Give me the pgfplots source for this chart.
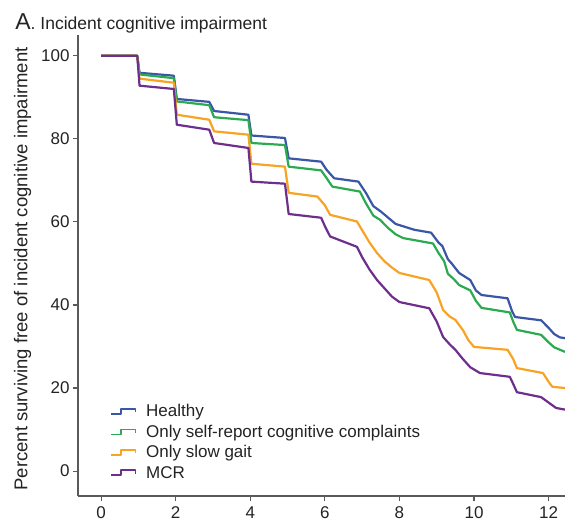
\documentclass[border=0pt]{standalone}
\usepackage{pgfplots}
\pgfplotsset{compat=1.18}
\usepackage{fontspec}
\setmainfont{Liberation Sans}
\usetikzlibrary{calc}
\definecolor{cHealthy}{RGB}{58,86,166}
\definecolor{cSelf}{RGB}{44,170,82}
\definecolor{cGait}{RGB}{247,163,36}
\definecolor{cMCR}{RGB}{110,46,140}
\definecolor{axgray}{RGB}{90,90,90}
\definecolor{txt}{RGB}{35,35,35}
\begin{document}
\begin{tikzpicture}
\begin{axis}[
  scale only axis, width=487pt, height=461pt,
  xmin=-0.62, xmax=12.44, ymin=-6, ymax=105,
  axis x line*=bottom, axis y line*=left,
  axis line style={-, axgray, line width=1.3pt},
  every tick/.style={axgray, line width=1.1pt},
  tick align=outside, major tick length=5pt,
  xtick={0,2,4,6,8,10,12}, ytick={0,20,40,60,80,100},
  tick label style={font=\fontsize{17}{20}\selectfont, text=txt},
  xticklabel style={yshift=-2pt},
  /pgf/number format/assume math mode=true,
  ylabel={Percent surviving free of incident cognitive impairment},
  ylabel style={font=\fontsize{18.5}{21}\selectfont, text=txt, at={(rel axis cs:-0.089,0.4924)}, anchor=south},
  clip mode=individual,
  legend cell align=left,
  legend style={draw=none, fill=none, font=\fontsize{17}{20}\selectfont, text=txt,
    at={(rel axis cs:0.066,0.203)}, anchor=north west, row sep=2.7pt, inner sep=0pt,
    column sep=8pt},
  legend image code/.code={
    \draw[#1, line width=1.6pt] (0cm,-0.08cm) -- (0.35cm,-0.08cm) -- (0.35cm,0.09cm) -- (0.85cm,0.09cm) -- (0.85cm,-0.03cm);
  },
  every axis plot/.append style={line width=2.2pt, line join=round, sharp plot},
]
\addplot[cHealthy] coordinates {
(0,100) (0.97,100) (1.03,95.9) (1.95,95.2) (2.03,89.6) (2.9,88.9) (3.03,86.7) (3.95,85.8) (4.03,80.8) (4.93,80.2)
(5.03,75.3) (5.9,74.5) (6.05,72.5) (6.25,70.5) (6.9,69.7) (7.1,67) (7.3,63.8) (7.5,62.5) (7.7,61) (7.9,59.5)
(8.4,58.1) (8.85,57.4) (9.05,55) (9.15,54.2) (9.3,51) (9.4,50) (9.6,47.7) (9.9,46) (10.05,43.5) (10.2,42.4)
(10.9,41.6) (11.02,38.5) (11.1,37.1) (11.8,36.3) (12.0,34.5) (12.15,33) (12.3,32.2) (12.44,32)
};
\addlegendentry{Healthy}
\addplot[cSelf] coordinates {
(0,100) (0.97,100) (1.03,95.5) (1.95,94.6) (2.03,89.0) (2.9,88.1) (3.03,85.2) (3.95,84.5) (4.03,79.0) (4.93,78.5)
(5.03,73.3) (5.9,72.4) (6.05,70.5) (6.2,68.5) (6.94,67.3) (7.1,64.5) (7.3,61.5) (7.48,60.5) (7.7,58.5) (7.9,57)
(8.1,56.1) (8.9,54.8) (9.05,52.5) (9.2,50.5) (9.3,47.5) (9.45,46.3) (9.6,44.8) (9.9,43.5) (10.05,41) (10.2,39.3)
(10.96,38.2) (11.05,36) (11.15,34) (11.8,32.8) (12.0,31) (12.15,29.8) (12.44,28.7)
};
\addlegendentry{Only self-report cognitive complaints}
\addplot[cGait] coordinates {
(0,100) (0.97,100) (1.03,94.5) (1.95,93.5) (2.03,85.8) (2.9,84.6) (3.03,81.8) (3.95,81.0) (4.03,74.0) (4.93,73.3)
(5.03,67.0) (5.8,66.1) (6.0,64) (6.14,61.7) (6.86,60.1) (7.0,58) (7.2,55) (7.4,52.5) (7.6,50.5) (7.8,49)
(8.0,47.7) (8.8,46.0) (9.0,43) (9.17,38.8) (9.35,37.2) (9.5,36.4) (9.7,34) (9.85,31.5) (10.0,29.9) (10.9,29.2)
(11.05,27) (11.15,24.8) (11.85,23.6) (12.0,21.5) (12.1,20.3) (12.44,20)
};
\addlegendentry{Only slow gait}
\addplot[cMCR] coordinates {
(0,100) (0.97,100) (1.03,92.8) (1.95,92.0) (2.03,83.4) (2.9,82.2) (3.03,79.0) (3.95,77.8) (4.03,69.7) (4.93,69.2)
(5.03,61.9) (5.9,61) (6.0,59) (6.14,56.5) (6.86,54) (7.0,51.5) (7.2,48.5) (7.4,46) (7.6,44) (7.8,42)
(8.0,40.7) (8.8,39.2) (9.0,36) (9.17,32.3) (9.35,30.5) (9.5,29.2) (9.7,27) (9.9,25) (10.16,23.6) (10.96,22.7)
(11.05,21) (11.15,19) (11.8,17.8) (12.0,16.5) (12.2,15.2) (12.44,14.8)
};
\addlegendentry{MCR}
\node[anchor=base west, inner sep=0pt, text=txt] at (rel axis cs:-0.129,1.013)
  {{\fontsize{23}{25}\selectfont A}{\fontsize{17.5}{20}\selectfont. Incident cognitive impairment}};
\coordinate (bl) at (rel axis cs:0,0);
\coordinate (tr) at (rel axis cs:1,1);
\end{axis}
\pgfresetboundingbox
\path[use as bounding box] ($(bl)+(-78pt,-27pt)$) rectangle ($(tr)+(0pt,35pt)$);
\end{tikzpicture}
\end{document}
